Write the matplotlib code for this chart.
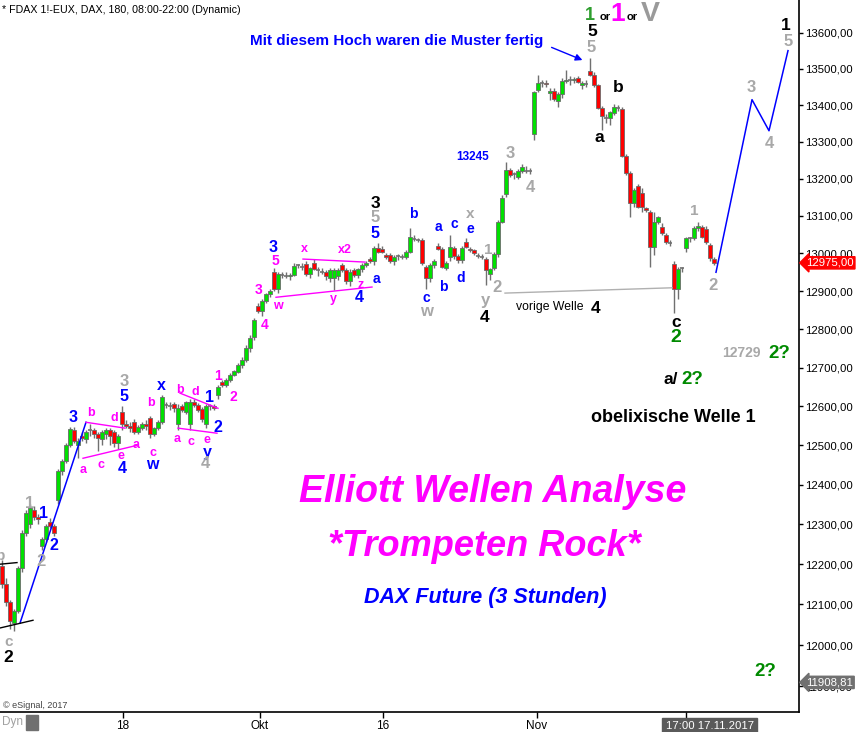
import matplotlib
matplotlib.use("Agg")
import matplotlib.pyplot as plt
from matplotlib.patches import Rectangle
from matplotlib.ticker import NullLocator, FixedLocator

plt.rcParams['font.family'] = ['Liberation Sans', 'DejaVu Sans']

# 3-Stunden-Kerzen FDAX (Sep - 17.11.2017)
opens = [12195, 12150, 12105, 12055, 12085, 12190, 12278, 12300, 12335, 12318,
         12245, 12262, 12305, 12295, 12360, 12435, 12460, 12500, 12540, 12500,
         12525, 12515, 12535, 12538, 12530, 12515, 12530, 12540, 12535, 12505,
         12585, 12555, 12550, 12560, 12535, 12545, 12555, 12570, 12530, 12545,
         12560, 12600, 12603, 12605, 12555, 12600, 12585, 12555, 12612, 12603,
         12592, 12555, 12598, 12600, 12630, 12662, 12655, 12668, 12681, 12690,
         12707, 12720, 12750, 12780, 12862, 12848, 12875, 12892, 12950, 12905,
         12945, 12942, 12940, 12944, 12966, 12968, 12972, 12945, 12974, 12958,
         12955, 12950, 12935, 12935, 12940, 12968, 12955, 12928, 12955, 12942,
         12958, 12970, 12985, 12980, 13015, 13012, 12995, 12995, 12980, 12990,
         12992, 12990, 13005, 13040, 13038, 13035, 12965, 12935, 12968, 13020,
         13013, 12961, 12990, 13015, 12992, 12982, 13030, 13012, 13008, 12995,
         12992, 12985, 12945, 12960, 12998, 13084, 13160, 13223, 13210, 13205,
         13220, 13225, 13222, 13320, 13441, 13460, 13462, 13432, 13440, 13410,
         13430, 13465, 13470, 13468, 13475, 13455, 13460, 13495, 13484, 13454,
         13393, 13368, 13365, 13378, 13395, 13390, 13262, 13215, 13135, 13180,
         13162, 13120, 13110, 13017, 13085, 13070, 13048, 13030, 12972, 12905,
         12958, 13014, 13038, 13040, 13068, 13070, 13065, 13022, 12985]
highs = [12210, 12165, 12110, 12090, 12195, 12285, 12335, 12350, 12345, 12325,
         12268, 12300, 12315, 12300, 12440, 12465, 12505, 12548, 12548, 12520,
         12535, 12540, 12555, 12545, 12535, 12540, 12545, 12545, 12540, 12530,
         12600, 12565, 12560, 12568, 12552, 12560, 12565, 12575, 12548, 12565,
         12630, 12612, 12610, 12612, 12605, 12605, 12615, 12620, 12618, 12608,
         12598, 12605, 12605, 12605, 12655, 12668, 12672, 12686, 12695, 12712,
         12728, 12760, 12785, 12830, 12870, 12880, 12895, 12905, 12960, 12950,
         12952, 12950, 12948, 12975, 12972, 12975, 12980, 12965, 12985, 12965,
         12960, 12955, 12962, 12960, 12960, 12975, 12960, 12958, 12962, 12962,
         12975, 12980, 12990, 13020, 13027, 13020, 13000, 13000, 12995, 12998,
         12998, 13010, 13068, 13048, 13042, 13040, 12970, 12975, 12985, 13028,
         13018, 12980, 13049, 13020, 12998, 13020, 13041, 13018, 13012, 13000,
         12998, 12990, 12962, 13005, 13090, 13155, 13245, 13230, 13218, 13225,
         13240, 13235, 13230, 13440, 13483, 13470, 13470, 13448, 13448, 13435,
         13475, 13496, 13480, 13478, 13480, 13465, 13468, 13530, 13490, 13458,
         13398, 13375, 13385, 13402, 13400, 13395, 13268, 13220, 13175, 13185,
         13175, 13125, 13115, 13110, 13100, 13080, 13055, 13036, 12980, 12965,
         12965, 13045, 13045, 13072, 13084, 13075, 13072, 13028, 12990]
lows = [12140, 12095, 12040, 12035, 12080, 12180, 12270, 12290, 12310, 12300,
        12235, 12255, 12290, 12270, 12350, 12425, 12455, 12495, 12505, 12467,
        12510, 12505, 12525, 12520, 12485, 12500, 12515, 12500, 12495, 12490,
        12540, 12545, 12535, 12530, 12528, 12540, 12540, 12520, 12525, 12540,
        12555, 12595, 12590, 12585, 12540, 12585, 12580, 12540, 12598, 12585,
        12560, 12545, 12590, 12590, 12620, 12650, 12650, 12662, 12678, 12685,
        12700, 12715, 12740, 12772, 12842, 12835, 12870, 12885, 12900, 12895,
        12935, 12935, 12930, 12940, 12960, 12955, 12940, 12935, 12955, 12940,
        12945, 12930, 12925, 12903, 12930, 12950, 12920, 12915, 12938, 12935,
        12952, 12965, 12975, 12968, 13000, 13000, 12985, 12975, 12970, 12982,
        12985, 12985, 13000, 13032, 13030, 12970, 12905, 12925, 12962, 13010,
        12960, 12955, 12980, 12985, 12975, 12975, 13015, 13004, 12995, 12988,
        12985, 12916, 12930, 12955, 12990, 13080, 13150, 13205, 13200, 13198,
        13215, 13215, 13214, 13305, 13435, 13450, 13450, 13415, 13410, 13395,
        13420, 13460, 13455, 13460, 13460, 13445, 13450, 13480, 13450, 13390,
        13332, 13350, 13345, 13372, 13385, 13260, 13210, 13096, 13125, 13120,
        13110, 13110, 12965, 12995, 13078, 13050, 13025, 13020, 12843, 12880,
        12950, 13005, 13030, 13035, 13060, 13040, 13025, 12980, 12970]
closes = [12150, 12105, 12060, 12085, 12190, 12278, 12328, 12340, 12318, 12312,
          12262, 12295, 12295, 12278, 12435, 12460, 12500, 12542, 12512, 12510,
          12518, 12535, 12538, 12530, 12518, 12535, 12540, 12525, 12505, 12525,
          12555, 12550, 12545, 12535, 12548, 12555, 12550, 12530, 12545, 12560,
          12625, 12603, 12600, 12595, 12596, 12590, 12610, 12612, 12603, 12590,
          12568, 12600, 12600, 12595, 12650, 12655, 12668, 12681, 12691, 12707,
          12720, 12752, 12778, 12824, 12848, 12875, 12892, 12900, 12905, 12945,
          12942, 12940, 12944, 12966, 12968, 12965, 12945, 12960, 12958, 12955,
          12952, 12940, 12957, 12955, 12955, 12956, 12928, 12952, 12942, 12958,
          12970, 12975, 12980, 13015, 13003, 13003, 12990, 12980, 12990, 12992,
          12990, 13005, 13044, 13038, 13035, 12975, 12935, 12968, 12980, 13013,
          12965, 12975, 13017, 12992, 12982, 13015, 13018, 13008, 13000, 12992,
          12990, 12956, 12958, 12998, 13084, 13148, 13223, 13210, 13212, 13220,
          13232, 13222, 13220, 13435, 13460, 13462, 13458, 13440, 13418, 13430,
          13465, 13470, 13468, 13472, 13464, 13460, 13458, 13484, 13454, 13393,
          13370, 13365, 13380, 13396, 13392, 13262, 13215, 13135, 13170, 13125,
          13124, 13116, 13017, 13084, 13097, 13055, 13030, 13028, 12905, 12958,
          12960, 13041, 13040, 13067, 13072, 13045, 13030, 12987, 12975]

# Prognose (blaue Linie) und Hilfslinien
proj_x = [178.5, 187.5, 191.75, 196.5]
proj_y = [12950, 13415, 13330, 13550]
blue_x = [4.5, 21]
blue_y = [12054, 12559]
black_lines = [([-0.5, 3.75], [12200, 12204]), ([-0.5, 7.75], [12042, 12061])]
pink_lines = [([21, 30.75], [12559, 12544]), ([20.25, 33.75], [12467, 12500]),
              ([44.5, 54], [12634, 12595]), ([44, 53.75], [12544, 12531]),
              ([75.25, 90.75], [12985, 12977]), ([68.5, 92.5], [12884, 12911])]
prev_wave_x = [125.75, 167.5]
prev_wave_y = [12895, 12909]

y_ticks = [11900, 12000, 12100, 12200, 12300, 12400, 12500, 12600, 12700,
           12800, 12900, 13000, 13100, 13200, 13300, 13400, 13500, 13600, 13700]
x_ticks = [30.25, 64.5, 95.25, 133.75, 171]
x_labels = ['18', 'Okt', '16', 'Nov', '']
last_price = 12975.00
low_mark = 11908.81

GRAY = '#a8a8a8'
BLUE = '#0000ff'
PINK = '#ff00ff'
BLACK = '#000000'
GREEN = '#008a00'

# Wellen-Beschriftung: (x px, y px, Text, Farbe, Groesse)
labels = [
    (1, 556, 'b', GRAY, 11), (9, 642, 'c', GRAY, 11), (8, 657, '2', BLACK, 12.5),
    (30, 503, '1', GRAY, 12), (43, 514, '1', BLUE, 11.5), (54, 545, '2', BLUE, 11.5),
    (41, 562, '2', GRAY, 12), (73, 417, '3', BLUE, 11.5), (91, 413, 'b', PINK, 9),
    (83, 470, 'a', PINK, 9), (101, 465, 'c', PINK, 9), (114, 418, 'd', PINK, 9),
    (121, 456, 'e', PINK, 9), (122, 469, '4', BLUE, 11.5), (124, 382, '3', GRAY, 12),
    (124, 397, '5', BLUE, 11.5), (136, 445, 'a', PINK, 9), (151, 403, 'b', PINK, 9),
    (161, 385, 'x', BLUE, 11.5), (153, 453, 'c', PINK, 9), (152, 465, 'w', BLUE, 11.5),
    (180, 390, 'b', PINK, 9), (195, 392, 'd', PINK, 9), (209, 398, '1', BLUE, 11.5),
    (218, 427, '2', BLUE, 11.5), (177, 439, 'a', PINK, 9), (191, 442, 'c', PINK, 9),
    (207, 440, 'e', PINK, 9), (207, 452, 'y', BLUE, 11.5), (205, 464, '4', GRAY, 12),
    (218, 376, '1', PINK, 10), (233, 397, '2', PINK, 10),
    (259, 290, '3', PINK, 10), (265, 325, '4', PINK, 10), (273, 248, '3', BLUE, 11.5),
    (275, 261, '5', PINK, 10), (278, 306, 'w', PINK, 9), (304, 249, 'x', PINK, 9),
    (345, 250, 'x2', PINK, 9), (333, 299, 'y', PINK, 9), (361, 285, 'z', PINK, 9),
    (359, 297, '4', BLUE, 11.5), (375, 203, '3', BLACK, 12.5), (375, 218, '5', GRAY, 12),
    (375, 233, '5', BLUE, 11.5), (376, 279, 'a', BLUE, 10), (413, 214, 'b', BLUE, 10),
    (426, 298, 'c', BLUE, 10), (426, 311, 'w', GRAY, 12), (438, 227, 'a', BLUE, 10),
    (443, 287, 'b', BLUE, 10), (454, 224, 'c', BLUE, 10), (461, 278, 'd', BLUE, 10),
    (470, 214, 'x', GRAY, 11), (470, 229, 'e', BLUE, 10), (488, 250, '1', GRAY, 11),
    (485, 301, 'y', GRAY, 12), (485, 317, '4', BLACK, 12.5), (497, 288, '2', GRAY, 12),
    (473, 157, '13245', BLUE, 8.5), (510, 153, '3', GRAY, 12), (530, 187, '4', GRAY, 12),
    (592, 32, '5', BLACK, 12.5), (591, 47, '5', GRAY, 12), (618, 87, 'b', BLACK, 12.5),
    (599, 137, 'a', BLACK, 12.5), (694, 211, '1', GRAY, 11), (713, 285, '2', GRAY, 12),
    (676, 322, 'c', BLACK, 12.5), (676, 338, '2', GREEN, 14), (751, 88, '3', GRAY, 12),
    (769, 144, '4', GRAY, 12), (786, 25, '1', BLACK, 12.5), (788, 41, '5', GRAY, 12),
    (741, 353, '12729', GRAY, 10), (779, 354, '2?', GREEN, 13.5), (765, 672, '2?', GREEN, 13.5),
    (596, 308, '4', BLACK, 12.5), (671, 380, 'a/', BLACK, 12.5), (692, 380, '2?', GREEN, 13.5),
    (590, 15, '1', '#2e9e2e', 13), (605, 17, 'or', BLACK, 8), (618, 14, '1', PINK, 19),
    (632, 17, 'or', BLACK, 8), (650, 14, 'V', '#9a9a9a', 20.5),
]

W, H = 857, 732
AX_W, AX_H = 799, 712

fig = plt.figure(figsize=(W / 100, H / 100), dpi=100)
ax = fig.add_axes([0, 1 - AX_H / H, AX_W / W, AX_H / H])

# Kerzen
n = len(closes)
xs = list(range(n))
ax.vlines(xs, lows, highs, color='#707070', lw=1, zorder=1)
for i in xs:
    o, c = opens[i], closes[i]
    if abs(c - o) < 4:
        ax.hlines(c, i - 0.45, i + 0.45, color='#707070', lw=1.2, zorder=2)
        continue
    col = '#00e000' if c > o else '#ff0000'
    ax.add_patch(Rectangle((i - 0.4, min(o, c)), 0.8, abs(c - o),
                           facecolor=col, edgecolor='#6a6a6a', lw=0.6, zorder=2))

# Linien
ax.plot(proj_x, proj_y, color=BLUE, lw=1.1, zorder=3)
ax.plot(blue_x, blue_y, color=BLUE, lw=1.1, zorder=3)
for lx, ly in black_lines:
    ax.plot(lx, ly, color=BLACK, lw=1, zorder=3)
for lx, ly in pink_lines:
    ax.plot(lx, ly, color=PINK, lw=1, zorder=3)
ax.plot(prev_wave_x, prev_wave_y, color='#b0b0b0', lw=1, zorder=3)

# Pfeil zum Hoch
ax.annotate('', xy=(145.75, 13521), xytext=(136.75, 13562),
            arrowprops=dict(arrowstyle='-|>', color=BLUE, lw=1, mutation_scale=10))

ax.set_xlim(-0.5, 199.25)
ax.set_yscale('log')
ax.set_ylim(11837, 13691)
ax.yaxis.tick_right()
ax.yaxis.set_major_locator(FixedLocator(y_ticks))
ax.yaxis.set_minor_locator(NullLocator())
ax.set_yticklabels([f"{v:.2f}".replace('.', ',') for v in y_ticks])
ax.set_xticks(x_ticks)
ax.set_xticklabels(x_labels)
ax.tick_params(axis='x', direction='out', length=4, width=1, labelsize=8.5, pad=2)
ax.tick_params(axis='y', direction='out', length=3, width=1, labelsize=8.2, pad=1.5)
for s in ['top', 'left']:
    ax.spines[s].set_visible(False)
ax.spines['right'].set_linewidth(1.2)
ax.spines['bottom'].set_linewidth(1.2)


def put(px, py, s, color, size, weight='bold', **kw):
    ax.text(px / AX_W, 1 - py / AX_H, s, transform=ax.transAxes, ha='center',
            va='center', color=color, fontsize=size, fontweight=weight, **kw)


for px, py, s, col, size in labels:
    put(px, py, s, col, size)

ax.text(2 / AX_W, 1 - 10 / AX_H, '* FDAX 1!-EUX, DAX, 180, 08:00-22:00 (Dynamic)',
        transform=ax.transAxes, ha='left', va='center', fontsize=7.7)
ax.text(543 / AX_W, 1 - 41 / AX_H, 'Mit diesem Hoch waren die Muster fertig',
        transform=ax.transAxes, ha='right', va='center', fontsize=11,
        fontweight='bold', color=BLUE)
put(550, 307, 'vorige Welle', BLACK, 8.8, weight='normal')
put(673, 417, 'obelixische Welle 1', BLACK, 13)
put(493, 492, 'Elliott Wellen Analyse', PINK, 27, style='italic')
put(484, 546, '*Trompeten Rock*', PINK, 26, style='italic')
put(485, 598, 'DAX Future (3 Stunden)', BLUE, 15.5, style='italic')
ax.text(3 / AX_W, 1 - 705 / AX_H, '\u00a9 eSignal, 2017', transform=ax.transAxes,
        ha='left', va='center', fontsize=6.5, color='#444444')

# Preisboxen rechts
yt = ax.get_yaxis_transform()
ax.text(1.009, last_price, f"{last_price:.2f}".replace('.', ','), transform=yt,
        ha='left', va='center', fontsize=8.2, color='white', zorder=10, clip_on=False,
        bbox=dict(boxstyle='larrow,pad=0.1', fc='#ff0000', ec='#ff0000'))
ax.text(1.009, low_mark, f"{low_mark:.2f}".replace('.', ','), transform=yt,
        ha='left', va='center', fontsize=8.2, color='white', zorder=10, clip_on=False,
        bbox=dict(boxstyle='larrow,pad=0.1', fc='#707070', ec='#707070'))

# Datumsbox unten
xt = ax.get_xaxis_transform()
ax.text(176.9, -14 / AX_H, '17:00 17.11.2017', transform=xt, ha='center', va='center',
        fontsize=8.2, color='white', zorder=10, clip_on=False,
        bbox=dict(boxstyle='square,pad=0.3', fc='#5a5a5a', ec='#5a5a5a'))

fig.text(2 / W, 1 - 722 / H, 'Dyn', ha='left', va='center', fontsize=8.5, color='#a0a0a0')
fig.add_artist(Rectangle((26 / W, 2 / H), 12 / W, 15 / H, transform=fig.transFigure,
                         facecolor='#707070', edgecolor='#707070'))

fig.savefig('out.png', dpi=100)
